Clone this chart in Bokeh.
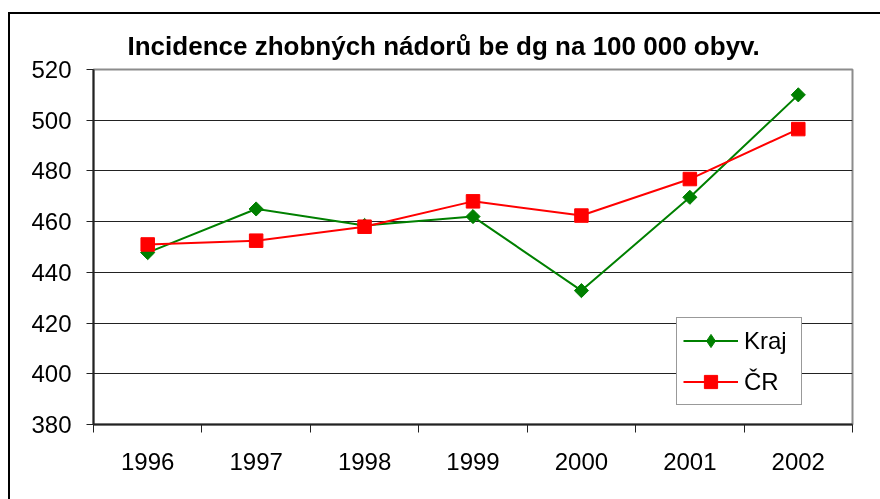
import math
from bokeh.plotting import figure
from bokeh.models import FixedTicker, Legend, LegendItem
from bokeh.embed import file_html
from bokeh.resources import INLINE

# ---- data ----
years = [1996, 1997, 1998, 1999, 2000, 2001, 2002]
year_labels = ["1996", "1997", "1998", "1999", "2000", "2001", "2002"]
kraj = [447.8, 465.0, 458.5, 462.0, 432.8, 469.6, 510.0]
cr = [451.0, 452.5, 458.0, 468.0, 462.4, 476.8, 496.5]
y_ticks = [380, 400, 420, 440, 460, 480, 500, 520]
series_names = ["Kraj", "ČR"]
title_text = "Incidence zhobných nádorů be dg na 100 000 obyv."

FONT = "Liberation Sans"
GREEN = "#008000"
RED = "#ff0000"

p = figure(width=880, height=492, output_backend="svg", toolbar_location=None,
           x_range=(years[0] - 0.5, years[-1] + 0.5),
           y_range=(y_ticks[0], y_ticks[-1]),
           min_border_left=83, min_border_right=38,
           min_border_top=55, min_border_bottom=82)
p.styles = {"box-shadow": "-2px -2px 0 0 #000",
            "position": "fixed", "left": "10px", "top": "14px"}

p.background_fill_color = "white"
p.border_fill_color = "white"
p.outline_line_color = "#8c8c8c"
p.outline_line_width = 2

# title
p.title.text = title_text
p.title.text_font = FONT
p.title.text_font_size = "26px"
p.title.text_font_style = "bold"
p.title.align = "left"
p.title.offset = 34
p.title.standoff = 18
p.title.text_color = "black"

# x axis
bounds = [y - 0.5 for y in years] + [years[-1] + 0.5]
p.xaxis.ticker = FixedTicker(ticks=years, minor_ticks=bounds)
p.xaxis.major_label_overrides = {y: l for y, l in zip(years, year_labels)}
p.xaxis.major_tick_out = 0
p.xaxis.major_tick_in = 0
p.xaxis.minor_tick_out = 8
p.xaxis.minor_tick_in = 0
p.xaxis.minor_tick_line_color = "#222222"
p.xaxis.minor_tick_line_width = 1
p.xaxis.axis_line_color = "#222222"
p.xaxis.axis_line_width = 2
p.xaxis.major_label_text_font = FONT
p.xaxis.major_label_text_font_size = "24px"
p.xaxis.major_label_text_color = "black"
p.xaxis.major_label_standoff = 20

# y axis
p.yaxis.ticker = FixedTicker(ticks=y_ticks)
p.yaxis.major_tick_out = 7
p.yaxis.major_tick_in = 0
p.yaxis.minor_tick_out = 0
p.yaxis.minor_tick_in = 0
p.yaxis.major_tick_line_color = "#222222"
p.yaxis.axis_line_color = "#222222"
p.yaxis.axis_line_width = 2
p.yaxis.major_label_text_font = FONT
p.yaxis.major_label_text_font_size = "24px"
p.yaxis.major_label_text_color = "black"
p.yaxis.major_label_standoff = 15

# grid
p.xgrid.visible = False
p.ygrid.ticker = FixedTicker(ticks=y_ticks[1:-1])
p.ygrid.grid_line_color = "#222222"
p.ygrid.grid_line_width = 1

# series
gl = p.line(years, kraj, line_color=GREEN, line_width=2)
# narrow diamond (hidden beneath the rotated squares) used for the legend swatch
gleg = p.scatter(years, kraj, marker="diamond", size=12,
                 fill_color=GREEN, line_color=GREEN)
gs = p.scatter(years, kraj, marker="square", angle=math.pi / 4, size=10,
               fill_color=GREEN, line_color=GREEN)
rl = p.line(years, cr, line_color=RED, line_width=2)
rs = p.scatter(years, cr, marker="square", size=13.5,
               fill_color=RED, line_color=RED)

legend = Legend(items=[LegendItem(label=series_names[0], renderers=[gl, gleg]),
                       LegendItem(label=series_names[1], renderers=[rl, rs])],
                location=(583, 19), border_line_color="#333333", border_line_width=1,
                padding=6, spacing=8, glyph_width=55, glyph_height=33,
                label_standoff=6, label_width=51,
                label_text_font=FONT, label_text_font_size="24px",
                label_text_color="black",
                margin=0, background_fill_color="white", background_fill_alpha=1)
p.add_layout(legend)

open("out.html", "w").write(file_html(p, INLINE))
